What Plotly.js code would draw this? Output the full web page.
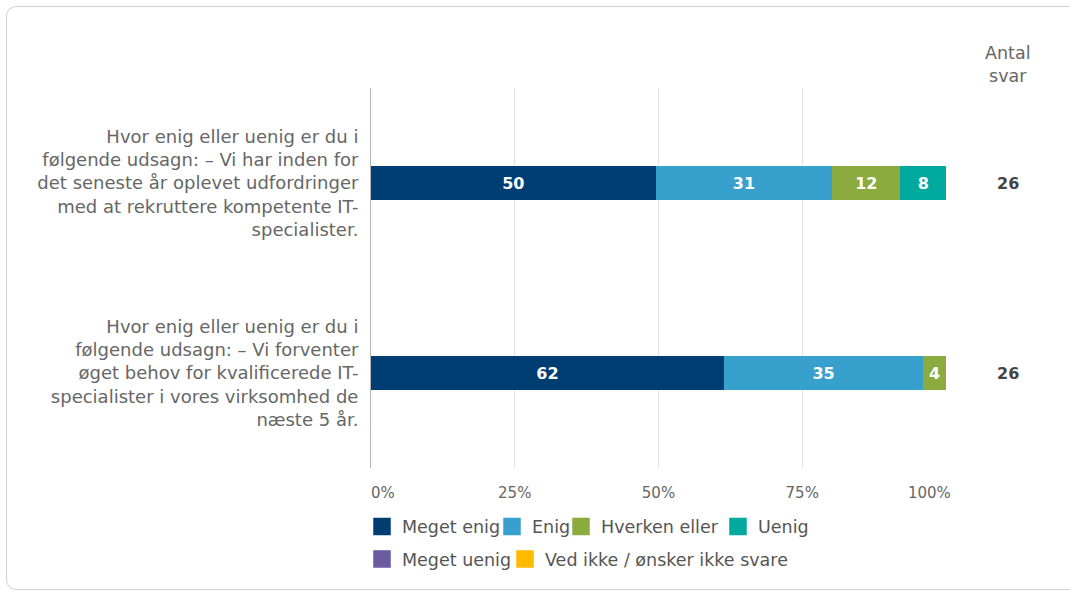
<!DOCTYPE html>
<html>
<head>
<meta charset="utf-8">
<script src="https://cdn.plot.ly/plotly-3.0.1.min.js"></script>
<style>
  html, body { margin: 0; padding: 0; background: #fff; }
  #wrap { position: relative; width: 1070px; height: 594px; overflow: hidden; }
  #frame { position: absolute; left: 6px; top: 6px; width: 1100px; height: 584px;
           border: 1px solid #cfcfcf; border-radius: 10px; box-sizing: border-box; pointer-events: none; }
  #chart { position: absolute; left: 0; top: 0; width: 1070px; height: 594px; }
</style>
</head>
<body>
<div id="wrap">
  <div id="chart"></div>
  <div id="frame"></div>
</div>
<script>
const categories = [
  "Hvor enig eller uenig er du i<br>følgende udsagn: – Vi har inden for<br>det seneste år oplevet udfordringer<br>med at rekruttere kompetente IT-<br>specialister.",
  "Hvor enig eller uenig er du i<br>følgende udsagn: – Vi forventer<br>øget behov for kvalificerede IT-<br>specialister i vores virksomhed de<br>næste 5 år."
];
const seriesNames = ["Meget enig", "Enig", "Hverken eller", "Uenig", "Meget uenig", "Ved ikke / ønsker ikke svare"];
const seriesColors = ["#003d73", "#38a0cc", "#8bab3f", "#00a99e", "#6a5ba1", "#ffbb00"];
const megetEnig  = [50, 62];
const enig       = [31, 35];
const hverken    = [12, 4];
const uenig      = [8, 0];
const megetUenig = [0, 0];
const vedIkke    = [0, 0];
const antalSvar  = [26, 26];
const tickVals   = [0, 25, 50, 75, 100];
const tickText   = ["0%", "25%", "50%", "75%", "100%"];

const seriesValues = [megetEnig, enig, hverken, uenig, megetUenig, vedIkke];
const FONT = "DejaVu Sans, Verdana, sans-serif";
const NB = "\u00a0";

// stacked bars (legend shown through matching square-marker entries)
const barTraces = seriesValues.map((vals, i) => ({
  type: "bar",
  orientation: "h",
  name: seriesNames[i],
  y: categories,
  x: vals,
  text: vals.map(v => v > 0 ? String(v) : ""),
  textposition: "inside",
  insidetextanchor: "middle",
  textangle: 0,
  constraintext: "none",
  textfont: { family: FONT, size: 16, color: "#ffffff", weight: "bold" },
  marker: { color: seriesColors[i], line: { width: 0 } },
  hoverinfo: "none",
  showlegend: false,
  legendgroup: seriesNames[i]
}));

const legendNames = ["legend", "legend2", "legend3", "legend4", "legend5", "legend6"];
const legendTraces = seriesNames.map((n, i) => ({
  type: "scatter",
  mode: "markers",
  name: n,
  x: [null], y: [null],
  marker: { symbol: "square", size: 16, color: seriesColors[i], line: { color: seriesColors[i], width: 1.5 } },
  hoverinfo: "none",
  showlegend: true,
  legendgroup: n,
  legend: legendNames[i]
}));

const annotations = [
  { xref: "paper", yref: "paper", x: 1.108, y: 1.061, text: "Antal<br>svar", showarrow: false,
    font: { family: FONT, size: 17.5, color: "#666666" }, xanchor: "center", yanchor: "middle", align: "center" }
];
categories.forEach((c, i) => {
  annotations.push({ xref: "paper", yref: "y", x: 1.108, y: c, text: String(antalSvar[i]), showarrow: false,
    font: { family: FONT, size: 16, color: "#444444", weight: "bold" }, xanchor: "center", yanchor: "middle" });
});

// tick label alignment like the source: first label starts at the axis, last ends at the plot edge
const shownTicks = tickText.map((t, i) => {
  if (i === 0) return NB.repeat(5) + t;
  if (i === tickText.length - 1) return t + NB.repeat(7);
  return t;
});

// one legend per entry so entries sit where the reference puts them
const legendX = [382, 512, 581, 738, 382, 525].map(c => (c - 20 - 371) / 575);
const legendY = [526.5, 526.5, 526.5, 526.5, 559, 559].map(p => (468 - p) / 380);

const layout = {
  width: 1070, height: 594,
  margin: { l: 371, r: 124, t: 88, b: 126 },
  paper_bgcolor: "rgba(0,0,0,0)",
  plot_bgcolor: "rgba(0,0,0,0)",
  barmode: "stack",
  barnorm: "percent",
  bargap: 0.826,
  font: { family: FONT, size: 15, color: "#666666" },
  xaxis: {
    range: [0, 100], fixedrange: true,
    tickvals: tickVals, ticktext: shownTicks,
    showgrid: true, gridcolor: "#e3e3e3", gridwidth: 1,
    zeroline: false, showline: false, ticks: "",
    ticklabelstandoff: 14,
    tickfont: { family: FONT, size: 15, color: "#666666" }
  },
  yaxis: {
    type: "category", autorange: "reversed", fixedrange: true,
    showgrid: false, zeroline: false,
    showline: true, linecolor: "#b5b5b5", linewidth: 1,
    ticks: "", ticklabelstandoff: 8,
    tickfont: { family: FONT, size: 18, color: "#666666" }
  },
  showlegend: true,
  annotations: annotations
};
legendNames.forEach((ln, i) => {
  layout[ln] = {
    orientation: "h", x: legendX[i], xanchor: "left", y: legendY[i], yanchor: "middle",
    font: { family: FONT, size: 17.5, color: "#555555" },
    bgcolor: "rgba(0,0,0,0)", borderwidth: 0,
    itemclick: false, itemdoubleclick: false, itemsizing: "trace", itemwidth: 30
  };
});

Plotly.newPlot("chart", barTraces.concat(legendTraces), layout, { displayModeBar: false, staticPlot: true });
</script>
</body>
</html>
